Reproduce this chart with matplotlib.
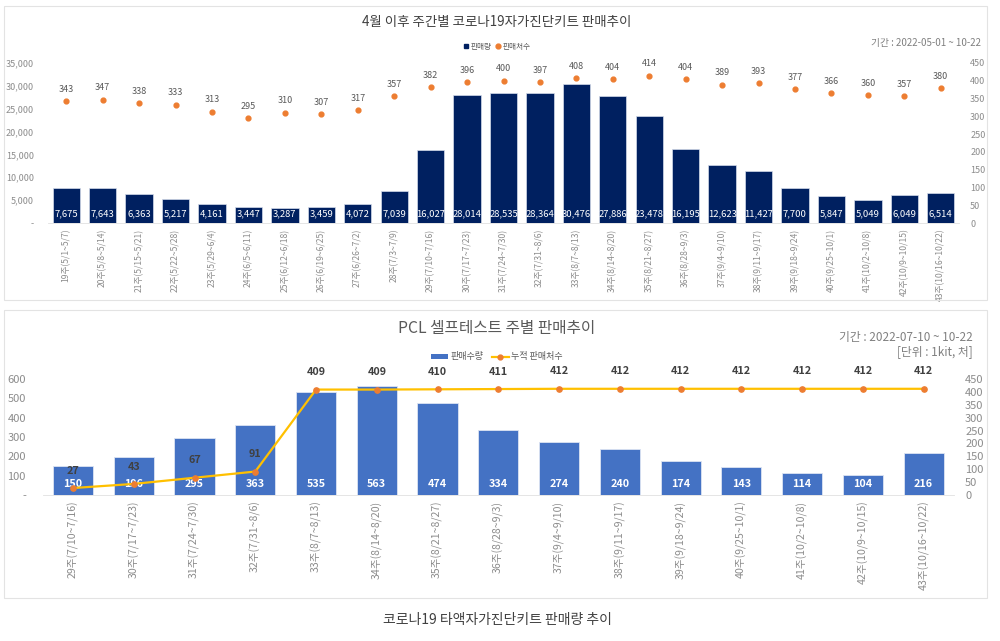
import matplotlib
matplotlib.use("Agg")
import matplotlib.pyplot as plt
from matplotlib.patches import Rectangle, Patch
from matplotlib.lines import Line2D
from matplotlib.ticker import FuncFormatter

plt.rcParams["font.family"] = ["Noto Sans CJK KR", "DejaVu Sans"]

# 위: 코로나19 자가진단키트 주간 판매
weeks_top = [
    "19주(5/1~5/7)", "20주(5/8~5/14)", "21주(5/15~5/21)", "22주(5/22~5/28)",
    "23주(5/29~6/4)", "24주(6/5~6/11)", "25주(6/12~6/18)", "26주(6/19~6/25)",
    "27주(6/26~7/2)", "28주(7/3~7/9)", "29주(7/10~7/16)", "30주(7/17~7/23)",
    "31주(7/24~7/30)", "32주(7/31~8/6)", "33주(8/7~8/13)", "34주(8/14~8/20)",
    "35주(8/21~8/27)", "36주(8/28~9/3)", "37주(9/4~9/10)", "38주(9/11~9/17)",
    "39주(9/18~9/24)", "40주(9/25~10/1)", "41주(10/2~10/8)", "42주(10/9~10/15)",
    "43주(10/16~10/22)",
]
sales_top = [7675, 7643, 6363, 5217, 4161, 3447, 3287, 3459, 4072, 7039, 16027,
             28014, 28535, 28364, 30476, 27886, 23478, 16195, 12623, 11427, 7700,
             5847, 5049, 6049, 6514]
stores_top = [343, 347, 338, 333, 313, 295, 310, 307, 317, 357, 382, 396, 400,
              397, 408, 404, 414, 404, 389, 393, 377, 366, 360, 357, 380]

# 아래: PCL 셀프테스트 주별 판매
weeks_bot = [
    "29주(7/10~7/16)", "30주(7/17~7/23)", "31주(7/24~7/30)", "32주(7/31~8/6)",
    "33주(8/7~8/13)", "34주(8/14~8/20)", "35주(8/21~8/27)", "36주(8/28~9/3)",
    "37주(9/4~9/10)", "38주(9/11~9/17)", "39주(9/18~9/24)", "40주(9/25~10/1)",
    "41주(10/2~10/8)", "42주(10/9~10/15)", "43주(10/16~10/22)",
]
sales_bot = [150, 196, 295, 363, 535, 563, 474, 334, 274, 240, 174, 143, 114, 104, 216]
stores_bot = [27, 43, 67, 91, 409, 409, 410, 411, 412, 412, 412, 412, 412, 412, 412]

W, H = 1000, 641
fig = plt.figure(figsize=(10, 6.41), dpi=100)


def fx(px):
    return px / W


def fy(py):
    return 1 - py / H


# 패널 테두리
for top, bot in [(6, 300), (310, 598)]:
    fig.patches.append(Rectangle((fx(4), fy(bot)), fx(983), (bot - top) / H,
                                 transform=fig.transFigure, fill=False,
                                 edgecolor="#E3E3E3", linewidth=0.8))

tick_gray = "#8C8C8C"

# ---------------- 위 차트 ----------------
ax1 = fig.add_axes([fx(48), fy(223), fx(911), 160 / H])
x1 = range(len(sales_top))
ax1.bar(x1, sales_top, width=0.75, color="#002060", edgecolor="#D5DCEA", linewidth=0.5)
ax1.set_xlim(-0.5, len(sales_top) - 0.5)
ax1.set_ylim(0, 35000)
ax1.set_yticks(range(0, 35001, 5000))
ax1.yaxis.set_major_formatter(FuncFormatter(lambda v, p: "-" if v == 0 else f"{int(v):,}"))
ax1.set_xticks(list(x1))
ax1.set_xticklabels(weeks_top, rotation=90, fontsize=6.2, color=tick_gray)
ax1.tick_params(axis="y", labelsize=6.5, colors=tick_gray, length=0, pad=10)
ax1.tick_params(axis="x", length=0, pad=4)
for s in ["top", "right", "left"]:
    ax1.spines[s].set_visible(False)
ax1.spines["bottom"].set_color("#E0E0E0")
ax1.spines["bottom"].set_linewidth(0.6)
for i, v in enumerate(sales_top):
    ax1.annotate(f"{v:,}", (i, 0), xytext=(0, 6.5), textcoords="offset points",
                 ha="center", va="center", fontsize=6.8, color="white")

ax1r = ax1.twinx()
ax1r.scatter(x1, stores_top, s=12, color="#ED7D31", zorder=3)
ax1r.set_ylim(0, 450)
ax1r.set_yticks(range(0, 451, 50))
ax1r.tick_params(axis="y", labelsize=6.5, colors=tick_gray, length=0, pad=8)
for s in ax1r.spines.values():
    s.set_visible(False)
for i, v in enumerate(stores_top):
    ax1r.annotate(str(v), (i, v), xytext=(0, 8.5), textcoords="offset points",
                  ha="center", va="center", fontsize=6.5, color="#595959")

fig.text(0.497, fy(22), "4월 이후 주간별 코로나19자가진단키트 판매추이",
         ha="center", va="center", fontsize=9.7, color="#404040")
fig.text(fx(981), fy(43), "기간 : 2022-05-01 ~ 10-22", ha="right", va="center",
         fontsize=7, color="#808080")
h1 = [Line2D([], [], marker="s", linestyle="none", color="#002060", markersize=3.5),
      Line2D([], [], marker="o", linestyle="none", color="#ED7D31", markersize=3.5)]
fig.legend(h1, ["판매량", "판매처수"], loc="center", bbox_to_anchor=(0.497, fy(47)),
           ncol=2, frameon=False, fontsize=5.5, handlelength=0.6, handletextpad=0.3,
           columnspacing=0.6, labelcolor="#595959")

# ---------------- 아래 차트 ----------------
ax2 = fig.add_axes([fx(42.6), fy(495), fx(911.4), 116 / H])
x2 = range(len(sales_bot))
ax2.bar(x2, sales_bot, width=0.66, color="#4472C4", edgecolor="#DCE4F2", linewidth=0.6)
ax2.set_xlim(-0.5, len(sales_bot) - 0.5)
ax2.set_ylim(0, 600)
ax2.set_yticks(range(0, 601, 100))
ax2.yaxis.set_major_formatter(FuncFormatter(lambda v, p: "-" if v == 0 else f"{int(v)}"))
ax2.set_xticks(list(x2))
ax2.set_xticklabels(weeks_bot, rotation=90, fontsize=7.6, color=tick_gray)
ax2.tick_params(axis="y", labelsize=8, colors=tick_gray, length=0, pad=12)
ax2.tick_params(axis="x", length=0, pad=4)
for s in ["top", "right", "left"]:
    ax2.spines[s].set_visible(False)
ax2.spines["bottom"].set_color("#E0E0E0")
ax2.spines["bottom"].set_linewidth(0.6)
for i, v in enumerate(sales_bot):
    ax2.annotate(str(v), (i, 0), xytext=(0, 8), textcoords="offset points",
                 ha="center", va="center", fontsize=7.8, color="white", fontweight="bold")

ax2r = ax2.twinx()
ax2r.plot(x2, stores_bot, color="#FFC000", linewidth=1.6, marker="o", markersize=3.8,
          markerfacecolor="#ED7D31", markeredgecolor="#ED7D31", zorder=3)
ax2r.set_ylim(0, 450)
ax2r.set_yticks(range(0, 451, 50))
ax2r.tick_params(axis="y", labelsize=8, colors=tick_gray, length=0, pad=8)
for s in ax2r.spines.values():
    s.set_visible(False)
for i, v in enumerate(stores_bot):
    ax2r.annotate(str(v), (i, v), xytext=(0, 12.5), textcoords="offset points",
                  ha="center", va="center", fontsize=7.8, color="#404040",
                  fontweight="bold", annotation_clip=False)

fig.text(0.497, fy(328), "PCL 셀프테스트 주별 판매추이", ha="center", va="center",
         fontsize=11.3, color="#595959")
fig.text(fx(973), fy(337), "기간 : 2022-07-10 ~ 10-22", ha="right", va="center",
         fontsize=8.5, color="#808080")
fig.text(fx(973), fy(352), "[단위 : 1kit, 처]", ha="right", va="center",
         fontsize=8.5, color="#808080")
h2 = [Patch(facecolor="#4472C4"),
      Line2D([], [], color="#FFC000", linewidth=1.6, marker="o", markersize=3.5,
             markerfacecolor="#ED7D31", markeredgecolor="#ED7D31")]
fig.legend(h2, ["판매수량", "누적 판매처수"], loc="center", bbox_to_anchor=(0.497, fy(357)),
           ncol=2, frameon=False, fontsize=6.5, handlelength=1.8, handleheight=0.5,
           handletextpad=0.3, columnspacing=1.0, labelcolor="#595959")

fig.text(0.497, fy(620), "코로나19 타액자가진단키트 판매량 추이", ha="center", va="center",
         fontsize=10, color="#404040")

fig.savefig("out.png", dpi=100)
